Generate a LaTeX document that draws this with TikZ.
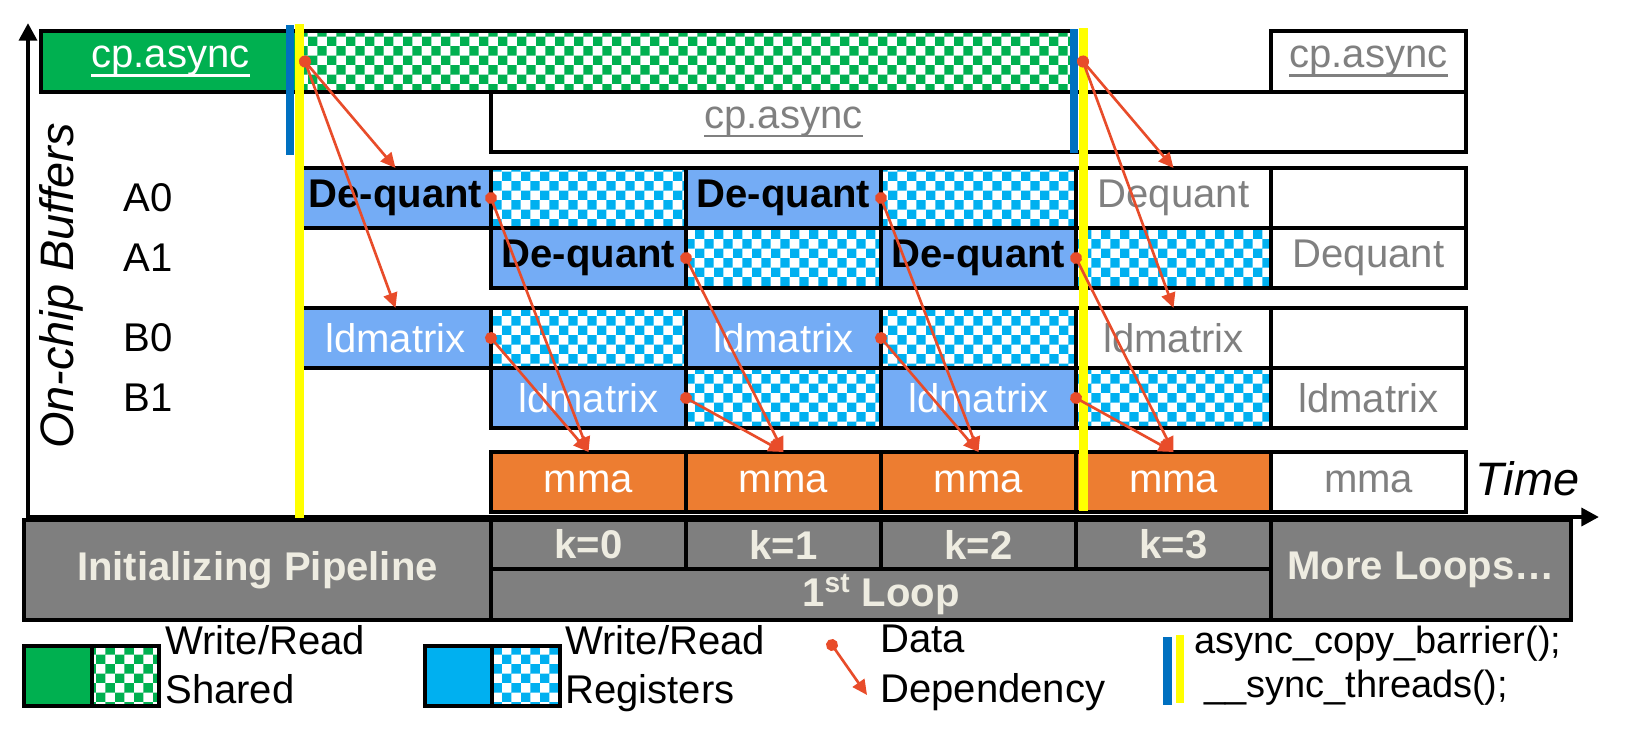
\documentclass[tikz,border=0pt]{standalone}
\usepackage{fontspec}
\setmainfont{Liberation Sans}
\usepackage{xcolor}
\usepackage{tikz}
\usetikzlibrary{arrows.meta, positioning, patterns}

\definecolor{shgreen}{RGB}{0,176,80}
\definecolor{lblue}{RGB}{116,172,245}
\definecolor{cyanb}{RGB}{0,176,240}
\definecolor{barblue}{RGB}{0,112,192}
\definecolor{yel}{RGB}{255,255,0}
\definecolor{mmaorange}{RGB}{237,125,49}
\definecolor{fgray}{RGB}{128,128,128}
\definecolor{bandgray}{RGB}{127,127,127}
\definecolor{bandtxt}{RGB}{238,236,225}
\definecolor{depred}{RGB}{232,76,42}

\newcommand{\lbl}{\fontsize{22.8}{27.4}\selectfont}
\newcommand{\axlbl}{\fontsize{26.7}{31}\selectfont\itshape}
\newcommand{\uln}[1]{\setbox0\hbox{#1}\rule[-5.2pt]{\wd0}{1.6pt}\kern-\wd0\box0}

\pgfdeclarepatternformonly{bigcheck}{\pgfpointorigin}{\pgfqpoint{11pt}{11pt}}{\pgfqpoint{11pt}{11pt}}{%
  \pgfpathrectangle{\pgfpointorigin}{\pgfqpoint{5.5pt}{5.5pt}}%
  \pgfpathrectangle{\pgfqpoint{5.5pt}{5.5pt}}{\pgfqpoint{5.5pt}{5.5pt}}%
  \pgfusepath{fill}}

\tikzset{
  cell/.style={draw=black, line width=1.8pt, minimum width=3.9cm,
               minimum height=1.2cm, inner sep=0pt, outer sep=0pt, font=\lbl},
  deq/.style={cell, fill=lblue, font=\lbl\bfseries},
  ldm/.style={cell, fill=lblue, text=white},
  regchk/.style={cell, preaction={fill=white}, pattern=bigcheck, pattern color=cyanb},
  regsolid/.style={cell, fill=cyanb},
  shchk/.style={cell, preaction={fill=white}, pattern=bigcheck, pattern color=shgreen},
  shsolid/.style={cell, fill=shgreen, text=white},
  future/.style={cell, fill=white, text=fgray},
  mmabox/.style={cell, fill=mmaorange, text=white},
  band/.style={cell, fill=bandgray, text=bandtxt, font=\lbl\bfseries},
  legtxt/.style={inner sep=0pt, font=\lbl},
  bartxt/.style={inner sep=0pt, font=\fontsize{21.6}{26}\selectfont},
  dep/.style={draw=depred, line width=1.5pt,
              {Circle[length=6.8pt]}-{Triangle[length=8.5pt,width=8pt]},
              shorten <=-3.4pt},
  axis/.style={line width=2.5pt,
               {Triangle[length=10pt,width=10pt]}-{Triangle[length=10pt,width=10pt]}}
}

\begin{document}
\begin{tikzpicture}[y=-1cm]
  \useasboundingbox (0,0) rectangle (32.54,14.8);

  % shared memory buffers
  \node[shsolid, anchor=north west, minimum width=5.18cm, minimum height=1.22cm] (cp0)
    at (0.82,0.62) {\uln{cp.async}};
  \node[shchk, right=0pt of cp0, minimum width=15.52cm, minimum height=1.22cm] (shbuf) {};
  \node[future, anchor=north west, minimum height=1.22cm] (cp2) at (25.42,0.62) {\uln{cp.async}};
  \node[future, anchor=north west, minimum width=19.5cm] (cp1) at (9.82,1.84) {};
  \node[font=\lbl, text=fgray] (cp1txt) at (15.67,2.44) {\uln{cp.async}};

  % register buffers A0 / A1
  \node[deq, anchor=north west, minimum width=3.82cm] (dq0) at (6.0,3.36) {De-quant};
  \node[regchk, right=0pt of dq0] (a0c0) {};
  \node[deq, right=0pt of a0c0] (dq2) {De-quant};
  \node[regchk, right=0pt of dq2] (a0c2) {};
  \node[future, right=0pt of a0c2] (dq4) {Dequant};
  \node[future, right=0pt of dq4] (a0c4) {};

  \node[deq, anchor=north west] (dq1) at (9.82,4.56) {De-quant};
  \node[regchk, right=0pt of dq1] (a1c1) {};
  \node[deq, right=0pt of a1c1] (dq3) {De-quant};
  \node[regchk, right=0pt of dq3] (a1c3) {};
  \node[future, right=0pt of a1c3] (dq5) {Dequant};

  % register buffers B0 / B1
  \node[ldm, anchor=north west, minimum width=3.82cm] (ld0) at (6.0,6.16) {ldmatrix};
  \node[regchk, right=0pt of ld0] (b0c0) {};
  \node[ldm, right=0pt of b0c0] (ld2) {ldmatrix};
  \node[regchk, right=0pt of ld2] (b0c2) {};
  \node[future, right=0pt of b0c2] (ld4) {ldmatrix};
  \node[future, right=0pt of ld4] (b0c4) {};

  \node[ldm, anchor=north west] (ld1) at (9.82,7.36) {ldmatrix};
  \node[regchk, right=0pt of ld1] (b1c1) {};
  \node[ldm, right=0pt of b1c1] (ld3) {ldmatrix};
  \node[regchk, right=0pt of ld3] (b1c3) {};
  \node[future, right=0pt of b1c3] (ld5) {ldmatrix};

  % tensor core
  \node[mmabox, anchor=north west] (mma0) at (9.82,9.04) {mma};
  \node[mmabox, right=0pt of mma0] (mma1) {mma};
  \node[mmabox, right=0pt of mma1] (mma2) {mma};
  \node[mmabox, right=0pt of mma2] (mma3) {mma};
  \node[future, right=0pt of mma3] (mma4) {mma};

  % timeline band
  \node[band, anchor=north west, minimum width=9.34cm, minimum height=2cm] (init)
    at (0.48,10.4) {Initializing Pipeline};
  \node[band, anchor=north west, minimum height=0.98cm] (k0) at (9.82,10.4) {k=0};
  \node[band, right=0pt of k0, minimum height=0.98cm] (k1) {k=1};
  \node[band, right=0pt of k1, minimum height=0.98cm] (k2) {k=2};
  \node[band, right=0pt of k2, minimum height=0.98cm] (k3) {k=3};
  \node[band, anchor=north west, minimum width=15.6cm, minimum height=1.02cm] (loop1)
    at (9.82,11.38) {1\textsuperscript{st} Loop};
  \node[band, anchor=north west, minimum width=6cm, minimum height=2cm] (more)
    at (25.42,10.4) {More Loops…};

  % axes
  \coordinate (orig) at (0.56,10.34);
  \coordinate (ytip) at (0.56,0.46);
  \coordinate (xtip) at (31.98,10.34);
  \draw[axis] (ytip) -- (orig) -- (xtip);
  \node[font=\axlbl, rotate=90] (ylbl) at (1.22,5.72) {On-chip Buffers};
  \node[font=\axlbl, anchor=base west, inner sep=0pt] (tlbl) at (29.5,9.9) {Time};

  \node[font=\lbl] (rA0) at (2.96,3.96) {A0};
  \node[font=\lbl] (rA1) at (2.96,5.16) {A1};
  \node[font=\lbl] (rB0) at (2.96,6.76) {B0};
  \node[font=\lbl] (rB1) at (2.96,7.96) {B1};

  % barriers
  \fill[barblue] (5.72,0.5) rectangle (5.88,3.1);
  \fill[yel] (5.9,0.48) rectangle (6.08,10.36);
  \fill[barblue] (21.4,0.58) rectangle (21.56,3.06);
  \fill[yel] (21.58,0.56) rectangle (21.76,10.22);

  % data dependencies
  \draw[dep] ([xshift=0.1cm]shbuf.west) -- (dq0.north);
  \draw[dep] ([xshift=0.1cm]shbuf.west) -- (ld0.north);
  \draw[dep] ([xshift=0.14cm]shbuf.east) -- (dq4.north);
  \draw[dep] ([xshift=0.14cm]shbuf.east) -- (ld4.north);
  \draw[dep] (dq0.east) -- (mma0.north);
  \draw[dep] (ld0.east) -- (mma0.north);
  \draw[dep] (dq1.east) -- (mma1.north);
  \draw[dep] (ld1.east) -- (mma1.north);
  \draw[dep] (dq2.east) -- (mma2.north);
  \draw[dep] (ld2.east) -- (mma2.north);
  \draw[dep] (dq3.east) -- (mma3.north);
  \draw[dep] (ld3.east) -- (mma3.north);

  % legend
  \node[shsolid, anchor=north west, minimum width=1.36cm] (lgsh) at (0.48,12.92) {};
  \node[shchk, right=0pt of lgsh, minimum width=1.34cm] (lgshc) {};
  \node[legtxt, anchor=base west] (lgsh1) at (3.3,13.08) {Write/Read};
  \node[legtxt, anchor=base west] (lgsh2) at (3.3,14.06) {Shared};

  \node[regsolid, anchor=north west, minimum width=1.34cm] (lgreg) at (8.5,12.92) {};
  \node[regchk, right=0pt of lgreg, minimum width=1.36cm] (lgregc) {};
  \node[legtxt, anchor=base west] (lgreg1) at (11.3,13.08) {Write/Read};
  \node[legtxt, anchor=base west] (lgreg2) at (11.3,14.06) {Registers};

  \coordinate (lgd0) at (16.64,12.9);
  \coordinate (lgd1) at (17.34,13.9);
  \draw[dep] (lgd0) -- (lgd1);
  \node[legtxt, anchor=base west] (lgdep1) at (17.6,13.04) {Data};
  \node[legtxt, anchor=base west] (lgdep2) at (17.6,14.04) {Dependency};

  \fill[barblue] (23.26,12.74) rectangle (23.44,14.1);
  \fill[yel] (23.52,12.7) rectangle (23.68,14.06);
  \node[bartxt, anchor=base west] (lgbar1) at (23.88,13.06) {async\_copy\_barrier();};
  \node[bartxt, anchor=base west] (lgbar2) at (24.08,13.94) {\_\_sync\_threads();};
\end{tikzpicture}
\end{document}
